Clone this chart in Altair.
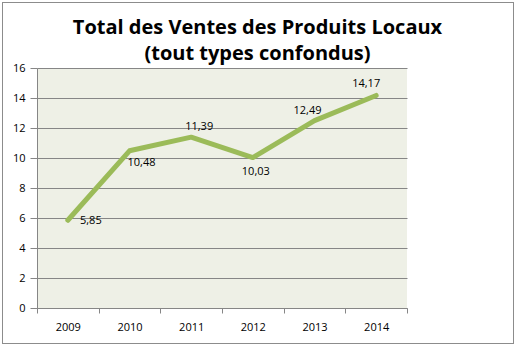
import altair as alt
import pandas as pd

years = ["2009", "2010", "2011", "2012", "2013", "2014"]
values = [5.85, 10.48, 11.39, 10.03, 12.49, 14.17]
labels = ["5,85", "10,48", "11,39", "10,03", "12,49", "14,17"]
y_ticks = [0, 2, 4, 6, 8, 10, 12, 14, 16]
title_lines = ["Total des Ventes des Produits Locaux", "(tout types confondus)"]

df = pd.DataFrame({"year": years, "value": values, "label": labels})

FONT = "Open Sans"

x = alt.X("year:N", sort=years, title=None,
          scale=alt.Scale(paddingInner=0, paddingOuter=0),
          axis=alt.Axis(labelAngle=0, tickBand="extent", grid=False,
                        labelPadding=8, tickSize=5))
y = alt.Y("value:Q", title=None,
          scale=alt.Scale(domain=[0, 16], nice=False),
          axis=alt.Axis(values=y_ticks, grid=True, tickSize=7, labelPadding=5))

base = alt.Chart(df)

line = base.mark_line(color="#9BBB59", strokeWidth=5, strokeCap="round",
                      strokeJoin="round").encode(x=x, y=y)

# label offsets (style) per year
offsets = {"2009": (23, 1), "2010": (12, 12), "2011": (8, -10),
           "2012": (3, 14), "2013": (-7, -10), "2014": (-10, -11)}

label_layers = []
for yr, (ddx, ddy) in offsets.items():
    label_layers.append(
        base.transform_filter(alt.datum.year == yr).mark_text(
            align="center", baseline="middle", dx=ddx, dy=ddy,
            font=FONT, fontSize=11, color="#000000"
        ).encode(x=x, y=y, text="label:N")
    )

border = alt.Chart(df).mark_rect(fill=None, stroke="#8c8c8c", strokeWidth=1).encode(
    x=alt.value(-34.5), x2=alt.value(476.5), y=alt.value(-65.5), y2=alt.value(275.5)
)

tdf = pd.DataFrame({"t": title_lines, "i": [0, 1]})
title1 = alt.Chart(tdf).transform_filter(alt.datum.i == 0).mark_text(
    font=FONT, fontSize=20, fontWeight="bold", color="#000000",
    align="center", baseline="alphabetic"
).encode(text="t:N", x=alt.value(220.5), y=alt.value(-34))
title2 = alt.Chart(tdf).transform_filter(alt.datum.i == 1).mark_text(
    font=FONT, fontSize=20, fontWeight="bold", color="#000000",
    align="center", baseline="alphabetic"
).encode(text="t:N", x=alt.value(220.5), y=alt.value(-8))

chart = alt.layer(border, title1, title2, line, *label_layers).properties(
    width=370, height=240,
    autosize=alt.AutoSizeParams(type="none"),
    padding={"left": 37, "top": 68, "right": 111, "bottom": 44},
    background="#FFFFFF",
).configure_view(fill="#EEF0E6", stroke=None).configure_axis(
    domainColor="#868686", tickColor="#868686", gridColor="#868686",
    gridOpacity=1,
    labelFont=FONT, labelFontSize=11, labelColor="#000000",
)

chart.save("out.html", embed_options={"renderer": "svg", "actions": False})
